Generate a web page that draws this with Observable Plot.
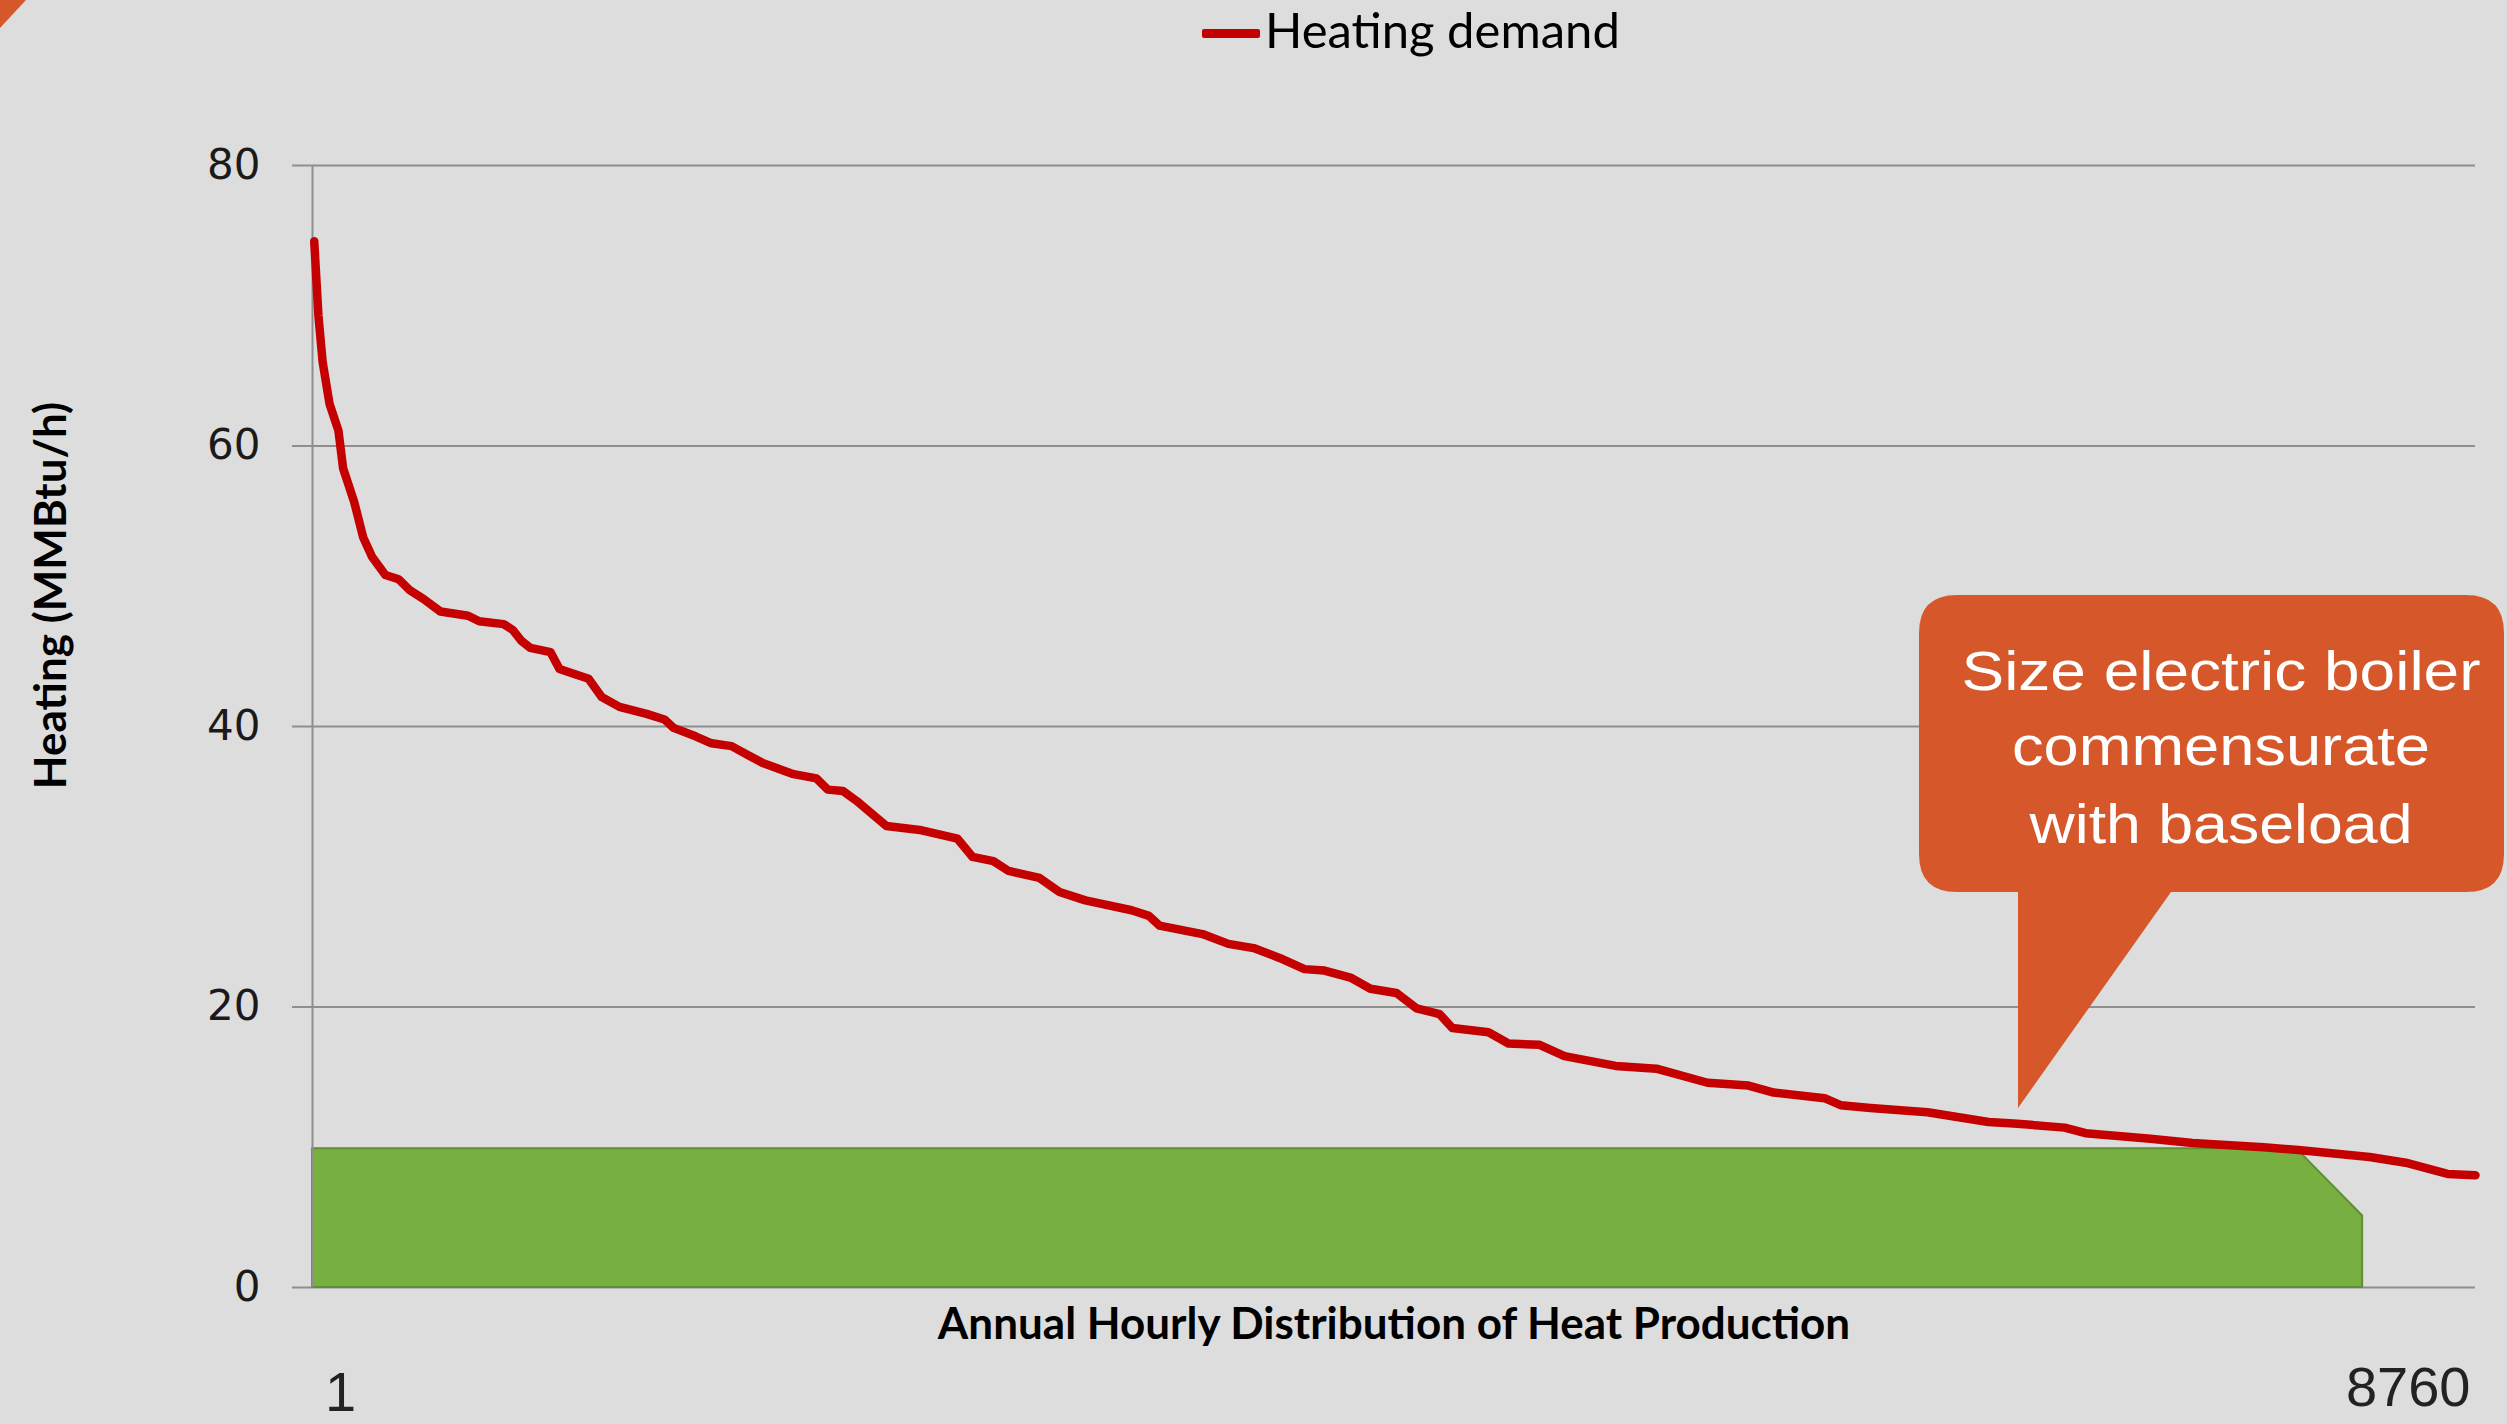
<!DOCTYPE html>
<html>
<head>
<meta charset="utf-8">
<script src="https://cdn.jsdelivr.net/npm/d3@7"></script>
<script src="https://cdn.jsdelivr.net/npm/@observablehq/plot@0.6"></script>
<style>
  html, body { margin: 0; padding: 0; background: #dddddd; }
  body { width: 2507px; height: 1424px; overflow: hidden; position: relative; }
  #legend { display: block; }
  #overlay { position: absolute; left: 0; top: 0; pointer-events: none; }
  #chart svg { display: block; }
</style>
</head>
<body>
<svg id="legend" width="2507" height="80"></svg>
<div id="chart"></div>
<svg id="overlay" width="2507" height="1424"></svg>
<script>
// ---- Data ----
const seriesName = "Heating demand";
const hours = [8, 25, 42, 70, 106, 125, 170, 206, 242, 296, 350, 396, 450, 519, 631, 676, 775, 811, 847, 883,
  965, 1001, 1119, 1172, 1244, 1354, 1426, 1463, 1552, 1617, 1698, 1771, 1824, 1949, 2042, 2087, 2149, 2204,
  2325, 2468, 2613, 2674, 2758, 2820, 2945, 3026, 3131, 3318, 3388, 3431, 3605, 3710, 3812, 3917, 4018, 4099,
  4204, 4285, 4390, 4472, 4565, 4617, 4763, 4844, 4970, 5071, 5278, 5443, 5650, 5816, 5918, 6124, 6189, 6310,
  6541, 6788, 6890, 7096, 7181, 7444, 7614, 7902, 8043, 8331, 8477, 8647, 8760];
const demand = [74.6, 69.3, 66.0, 63.0, 61.1, 58.4, 56.0, 53.5, 52.1, 50.8, 50.5, 49.7, 49.1, 48.2, 47.9, 47.5, 47.3, 46.9, 46.1, 45.6,
  45.3, 44.1, 43.4, 42.1, 41.4, 40.9, 40.5, 39.9, 39.3, 38.8, 38.6, 37.9, 37.4, 36.6, 36.3, 35.5, 35.4, 34.7,
  32.9, 32.6, 32.0, 30.7, 30.4, 29.7, 29.2, 28.2, 27.6, 26.9, 26.5, 25.8, 25.2, 24.5, 24.2, 23.5, 22.7, 22.6,
  22.1, 21.3, 21.0, 19.9, 19.5, 18.5, 18.2, 17.4, 17.3, 16.5, 15.8, 15.6, 14.6, 14.4, 13.9, 13.5, 13.0, 12.8,
  12.5, 11.8, 11.7, 11.4, 11.0, 10.6, 10.3, 10.0, 9.8, 9.3, 8.9, 8.1, 8.0];
// Electric boiler baseload block
const baseHours = [1, 8035, 8303];
const baseValues = [9.9, 9.9, 5.1];
// Axes
const yTicks = [0, 20, 40, 60, 80];
const xLabelHours = [1, 8760];
const xLabelTexts = ["1", "8760"];
const yTitle = "Heating (MMBtu/h)";
const xTitle = "Annual Hourly Distribution of Heat Production";
const calloutLines = ["Size electric boiler", "commensurate", "with baseload"];

// ---- Tables ----
const demandData = hours.map((h, i) => ({hour: h, value: demand[i]}));
const baseData = baseHours.map((h, i) => ({hour: h, value: baseValues[i]}));
const xLabels = xLabelHours.map((h, i) => ({hour: h, label: xLabelTexts[i]}));

const RED = "#c40000", GREEN = "#77b041", GRID = "#8e8e8e", ORANGE = "#d5572a";

const chart = Plot.plot({
  width: 2507,
  height: 1344,
  marginLeft: 312,
  marginRight: 32,
  marginTop: 85,
  marginBottom: 137,
  style: {background: "transparent", overflow: "visible"},
  x: {domain: [1, 8760], axis: null},
  y: {domain: [0, 80], axis: null},
  marks: [
    Plot.gridY(yTicks, {stroke: GRID, strokeOpacity: 1, strokeWidth: 2}),
    Plot.axisY(yTicks, {tickSize: 20, tickPadding: 32, stroke: GRID, strokeWidth: 2, fill: "#1a1a1a",
      fontSize: 42, fontFamily: "DejaVu Sans", label: null}),
    Plot.areaY(baseData, {x: "hour", y: "value", fill: GREEN, stroke: "#5f8f36", strokeWidth: 2}),
    Plot.ruleX([1], {stroke: GRID, strokeWidth: 2}),
    Plot.line(demandData, {x: "hour", y: "value", stroke: RED, strokeWidth: 8.5,
      strokeLinejoin: "round", strokeLinecap: "round"}),
    Plot.text([yTitle], {frameAnchor: "left", textAnchor: "middle", lineAnchor: "middle", rotate: -90,
      dx: -261, dy: -131, fontSize: 44, fontWeight: "bold", fontFamily: "Lato", fill: "#000"}),
    Plot.text([xTitle], {frameAnchor: "bottom", textAnchor: "middle", dy: 37, lineAnchor: "middle", fontSize: 44,
      fontWeight: "bold", fontFamily: "Lato", fill: "#000"}),
    Plot.text(xLabels.filter(d => d.hour === xLabelHours[0]), {x: "hour", y: () => 0, text: "label",
      textAnchor: "middle", dx: 28, dy: 106, fontSize: 56, fontFamily: "Liberation Sans", fill: "#222"}),
    Plot.text(xLabels.filter(d => d.hour === xLabelHours[1]), {x: "hour", y: () => 0, text: "label",
      textAnchor: "end", dx: -5, dy: 101, fontSize: 56, fontFamily: "Liberation Sans", fill: "#222"})
  ]
});
document.getElementById("chart").appendChild(chart);

// ---- Legend (above the chart) ----
const legend = d3.select("#legend");
legend.append("rect").attr("x", 1202).attr("y", 29).attr("width", 58).attr("height", 9)
  .attr("rx", 2).attr("fill", RED);
legend.append("text").attr("x", 1265).attr("y", 48).attr("font-family", "Lato")
  .attr("font-size", 49).attr("fill", "#000").text(seriesName);

// ---- Callout annotation and slide decoration ----
const ov = d3.select("#overlay");
ov.append("path").attr("d", "M0,0 L26,0 L0,28 Z").attr("fill", ORANGE);
ov.append("path")
  .attr("d", "M1957,595 H2466 Q2504,595 2504,633 V854 Q2504,892 2466,892 H2171 L2018,1108 V892 H1957 Q1919,892 1919,854 V633 Q1919,595 1957,595 Z")
  .attr("fill", ORANGE);
const lineY = [690, 765, 843];
const lineW = [519, 418, 383];
calloutLines.forEach((t, i) => {
  ov.append("text").attr("x", 2221).attr("y", lineY[i]).attr("text-anchor", "middle")
    .attr("font-family", "Liberation Sans").attr("font-size", 55).attr("fill", "#ffffff")
    .attr("textLength", lineW[i]).attr("lengthAdjust", "spacingAndGlyphs").text(t);
});
</script>
</body>
</html>
